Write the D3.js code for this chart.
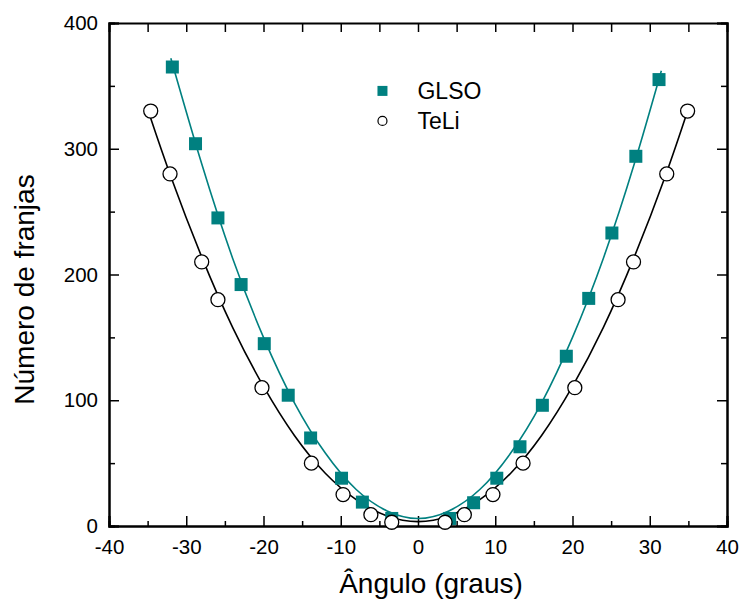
<!DOCTYPE html>
<html>
<head>
<meta charset="utf-8">
<script src="https://cdn.jsdelivr.net/npm/d3@7"></script>
<style>
    body { margin: 0; background: #fff; }
    text { font-family: Arial, "Liberation Sans", sans-serif; fill: #000; }
    .axis path, .axis line { stroke: #000; }
</style>
</head>
<body>
<div id="chart"></div>
<script>
// GLSO measurements (teal squares)
const glsoAngle = [-31.8, -28.8, -25.9, -22.9, -19.9, -16.8, -13.9, -9.9, -7.2, -3.4, 4.1, 7.2, 10.2, 13.2, 16.1, 19.2, 22.1, 25.1, 28.2, 31.2];
const glsoFringes = [365, 304, 245, 192, 145, 104, 70, 38, 19, 6, 6, 18.5, 38, 63, 96, 135, 181, 233, 294, 355];

// TeLi measurements (open circles)
const teliAngle = [-34.6, -32.1, -28.0, -25.9, -20.2, -13.8, -9.7, -6.1, -3.4, 3.5, 6.0, 9.7, 13.6, 20.3, 25.9, 27.9, 32.2, 34.9];
const teliFringes = [330, 280, 210, 180, 110, 50, 25, 9, 3, 3, 9, 25, 50, 110, 180, 210, 280, 330];

// fitted curves
const glsoFitAngle = [-32, -28, -24, -20, -16, -12, -8, -4, 0, 4, 8, 12, 16, 20, 24, 28, 31.5];
const glsoFitFringes = [372, 288, 213, 150, 98, 58, 29, 12, 6, 12, 29, 58, 98, 150, 213, 288, 362];
const teliFitAngle = [-34.7, -32, -28, -24, -20, -16, -12, -8, -4, 0, 4, 8, 12, 16, 20, 24, 28, 32, 34.9];
const teliFitFringes = [326, 278, 214, 158, 111, 72, 42, 21, 8, 3.5, 8, 21, 42, 72, 111, 158, 214, 278, 330];

const xTicks = [-40, -30, -20, -10, 0, 10, 20, 30, 40];
const yTicks = [0, 100, 200, 300, 400];

const teal = "#008080";

let margin = { top: 23, right: 13, bottom: 82, left: 109 };
let width = 740 - margin.left - margin.right;
let height = 608 - margin.top - margin.bottom;

let svg = d3.select("#chart")
    .append("svg")
    .attr("width", 740)
    .attr("height", 608)
    .append("g")
    .attr("transform", `translate(${margin.left},${margin.top})`);

let x = d3.scaleLinear().domain([-40, 40]).range([0, width]);
let y = d3.scaleLinear().domain([0, 400]).range([height, 0]);

let minorX = d3.range(-35, 40, 10);
let minorY = [50, 150, 250, 350];

// minor ticks
svg.append("g").attr("class", "axis")
    .attr("transform", `translate(0,${height})`)
    .call(d3.axisBottom(x).tickValues(minorX).tickSize(-5).tickFormat(""));
svg.append("g").attr("class", "axis")
    .call(d3.axisLeft(y).tickValues(minorY).tickSize(-6).tickFormat(""));
svg.append("g").attr("class", "axis")
    .attr("transform", `translate(${width},0)`)
    .call(d3.axisRight(y).tickValues(minorY).tickSize(-6).tickFormat(""));
svg.append("g").attr("class", "axis")
    .call(d3.axisTop(x).tickValues(d3.range(-35, 40, 5)).tickSize(-9).tickFormat(""));

// major axes
svg.append("g").attr("class", "axis x-axis")
    .attr("transform", `translate(0,${height})`)
    .call(d3.axisBottom(x).tickValues(xTicks).tickSize(-10).tickPadding(13).tickFormat(d => String(d)));
svg.append("g").attr("class", "axis y-axis")
    .call(d3.axisLeft(y).tickValues(yTicks).tickSize(-10).tickPadding(11).tickFormat(d => String(d)));
svg.append("g").attr("class", "axis")
    .attr("transform", `translate(${width},0)`)
    .call(d3.axisRight(y).tickValues(yTicks).tickSize(-10).tickFormat(""));

svg.selectAll(".axis path").attr("stroke-width", 2);
svg.selectAll(".axis line").attr("stroke-width", 1.5);
svg.selectAll(".axis text").style("font-size", "20.5px").attr("fill", "#000");
svg.selectAll(".x-axis .tick text").attr("dy", "0.71em");

// fitted curves
let line = d3.line()
    .x(d => x(d[0]))
    .y(d => y(d[1]))
    .curve(d3.curveNatural);

svg.append("path")
    .datum(d3.zip(glsoFitAngle, glsoFitFringes))
    .attr("fill", "none")
    .attr("stroke", teal)
    .attr("stroke-width", 1.6)
    .attr("d", line);

svg.append("path")
    .datum(d3.zip(teliFitAngle, teliFitFringes))
    .attr("fill", "none")
    .attr("stroke", "#000")
    .attr("stroke-width", 1.6)
    .attr("d", line);

// GLSO squares
let sq = 13;
svg.selectAll(".glso")
    .data(d3.zip(glsoAngle, glsoFringes))
    .enter()
    .append("rect")
    .attr("class", "glso")
    .attr("x", d => x(d[0]) - sq / 2)
    .attr("y", d => y(d[1]) - sq / 2)
    .attr("width", sq)
    .attr("height", sq)
    .attr("fill", teal);

// TeLi circles
svg.selectAll(".teli")
    .data(d3.zip(teliAngle, teliFringes))
    .enter()
    .append("circle")
    .attr("class", "teli")
    .attr("cx", d => x(d[0]))
    .attr("cy", d => y(d[1]))
    .attr("r", 7)
    .attr("fill", "#fff")
    .attr("stroke", "#000")
    .attr("stroke-width", 1.3);

// legend
let legend = svg.append("g").attr("transform", `translate(${x(-4.6)},${y(346)})`);
legend.append("rect")
    .attr("x", -5).attr("y", -5).attr("width", 10).attr("height", 10)
    .attr("fill", teal);
legend.append("text")
    .attr("x", 35).attr("y", 8)
    .style("font-size", "23px")
    .text("GLSO");
legend.append("circle")
    .attr("cx", 0).attr("cy", 30).attr("r", 4.5)
    .attr("fill", "#fff").attr("stroke", "#000").attr("stroke-width", 1.2);
legend.append("text")
    .attr("x", 35).attr("y", 38)
    .style("font-size", "23px")
    .text("TeLi");

// axis titles
svg.append("text")
    .attr("x", width / 2 + 13)
    .attr("y", height + 67)
    .attr("text-anchor", "middle")
    .style("font-size", "28px")
    .text("Ângulo (graus)");

svg.append("text")
    .attr("transform", `translate(${-75},${height / 2 + 15}) rotate(-90)`)
    .attr("text-anchor", "middle")
    .style("font-size", "28px")
    .text("Número de franjas");
</script>
</body>
</html>
